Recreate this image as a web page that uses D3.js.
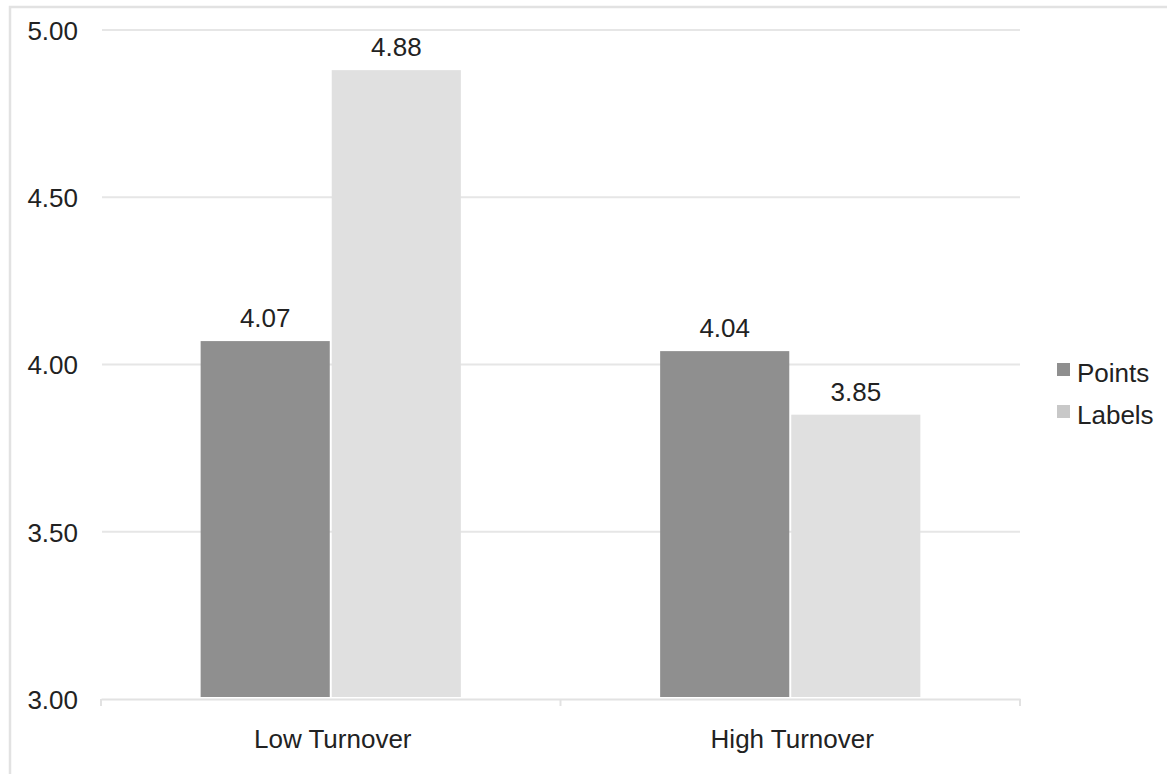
<!DOCTYPE html>
<html>
<head>
<meta charset="utf-8">
<script src="https://cdn.jsdelivr.net/npm/d3@7"></script>
<style>
  html, body { margin: 0; padding: 0; background: #fff; }
  svg { display: block; font-family: "Liberation Sans", Arial, sans-serif; }
</style>
</head>
<body>
<svg id="chart" width="1167" height="774"></svg>
<script>
const categories = ["Low Turnover", "High Turnover"];
const seriesNames = ["Points", "Labels"];
const pointsValues = [4.07, 4.04];
const labelsValues = [4.88, 3.85];
const yTicks = [3.00, 3.50, 4.00, 4.50, 5.00];
const seriesColors = ["#8f8f8f", "#e0e0e0"];
const legendColors = ["#8f8f8f", "#c8c8c8"];

const seriesValues = [pointsValues, labelsValues];
const data = categories.map((c, i) => ({
  category: c,
  values: seriesNames.map((s, j) => ({ series: s, value: seriesValues[j][i], idx: j }))
}));

const svg = d3.select("#chart");
const fontSize = 26;
const textColor = "#222";

// outer frame
svg.append("rect")
  .attr("x", 10).attr("y", 7)
  .attr("width", 1300).attr("height", 900)
  .attr("fill", "none").attr("stroke", "#e2e2e2").attr("stroke-width", 2.5);

const x = d3.scaleBand().domain(categories).range([101, 1020]).paddingInner(0).paddingOuter(0);
const xSub = d3.scaleBand().domain(seriesNames).range([0, x.bandwidth()])
  .paddingInner(0.015).paddingOuter(0.76);
const y = d3.scaleLinear().domain([3, 5]).range([699, 30]);

// gridlines
svg.append("g").selectAll("line")
  .data(yTicks.filter(t => t !== 3))
  .join("line")
  .attr("x1", 102).attr("x2", 1020)
  .attr("y1", d => y(d)).attr("y2", d => y(d))
  .attr("stroke", "#e6e6e6").attr("stroke-width", 2);

// y axis labels
const yAxis = d3.axisLeft(y).tickValues(yTicks).tickFormat(d3.format(".2f")).tickSize(0).tickPadding(0);
const yG = svg.append("g").attr("transform", "translate(78,0)").call(yAxis);
yG.select(".domain").remove();
yG.selectAll("text")
  .attr("font-size", fontSize).attr("font-family", "Liberation Sans, Arial, sans-serif")
  .attr("fill", textColor).attr("dy", "0.36em");

// bars
const groups = svg.append("g").selectAll("g")
  .data(data).join("g")
  .attr("transform", d => `translate(${x(d.category)},0)`);

groups.selectAll("rect")
  .data(d => d.values).join("rect")
  .attr("x", d => xSub(d.series))
  .attr("width", xSub.bandwidth())
  .attr("y", d => y(d.value))
  .attr("height", d => y(3) - 2 - y(d.value))
  .attr("fill", d => seriesColors[d.idx]);

groups.selectAll("text")
  .data(d => d.values).join("text")
  .attr("x", d => xSub(d.series) + xSub.bandwidth() / 2)
  .attr("y", d => y(d.value) - 14)
  .attr("text-anchor", "middle")
  .attr("font-size", fontSize)
  .attr("fill", textColor)
  .text(d => d3.format(".2f")(d.value));

// x axis baseline with ticks
const xAxis = d3.axisBottom(x).tickSize(0).tickFormat("");
const xG = svg.append("g").attr("transform", `translate(0,${y(3)})`).call(xAxis);
xG.select(".domain").attr("stroke", "#e2e2e2").attr("stroke-width", 2);
const boundaries = [x.range()[0]].concat(categories.map(c => x(c) + x.bandwidth()));
xG.selectAll(".bnd").data(boundaries).join("line")
  .attr("class", "bnd")
  .attr("x1", d => d).attr("x2", d => d)
  .attr("y1", 0).attr("y2", 7)
  .attr("stroke", "#e2e2e2").attr("stroke-width", 2);

svg.append("g").selectAll("text")
  .data(categories).join("text")
  .attr("x", d => x(d) + x.bandwidth() / 2 + 2)
  .attr("y", 748)
  .attr("text-anchor", "middle")
  .attr("font-size", fontSize)
  .attr("fill", textColor)
  .text(d => d);

// legend
const legend = svg.append("g").attr("transform", "translate(1057,363)");
const li = legend.selectAll("g").data(seriesNames).join("g")
  .attr("transform", (d, i) => `translate(0,${i * 42})`);
li.append("rect").attr("width", 13).attr("height", 13)
  .attr("fill", (d, i) => legendColors[i]);
li.append("text").attr("x", 20).attr("y", 19)
  .attr("font-size", fontSize).attr("fill", textColor)
  .text(d => d);
</script>
</body>
</html>
